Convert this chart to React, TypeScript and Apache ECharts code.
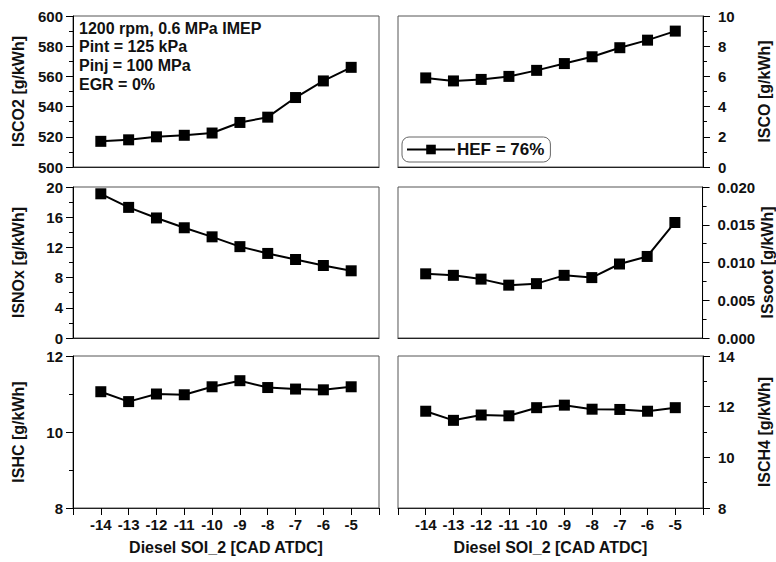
import React, { useEffect, useRef } from "react";
import * as echarts from "echarts";

const soi = [-14, -13, -12, -11, -10, -9, -8, -7, -6, -5];
const xTickLabels = [-14, -13, -12, -11, -10, -9, -8, -7, -6, -5];
const isco2 = [517, 518, 520, 521, 522.5, 529.5, 533, 546, 557, 566];
const isco = [5.9, 5.7, 5.8, 6.0, 6.4, 6.85, 7.3, 7.9, 8.4, 9.0];
const isnox = [19.1, 17.3, 15.9, 14.6, 13.4, 12.1, 11.2, 10.4, 9.6, 8.9];
const issoot = [0.0085, 0.0083, 0.0078, 0.007, 0.0072, 0.0083, 0.008, 0.0098, 0.0108, 0.0153];
const ishc = [11.06, 10.8, 11.0, 10.98, 11.19, 11.35, 11.17, 11.13, 11.11, 11.19];
const isch4 = [11.82, 11.46, 11.67, 11.64, 11.96, 12.06, 11.9, 11.89, 11.82, 11.96];

const legendName = "HEF = 76%";
const annotation = ["1200 rpm, 0.6 MPa IMEP", "Pint = 125 kPa", "Pinj = 100 MPa", "EGR = 0%"];
const xName = "Diesel SOI_2 [CAD ATDC]";

const FONT = "'Liberation Sans', Arial, sans-serif";
const TXT = "#111";

const panels = [
  { name: "ISCO2 [g/kWh]", data: isco2, min: 500, max: 600, interval: 20, side: "left", row: 0, dec: 0 },
  { name: "ISCO [g/kWh]", data: isco, min: 0, max: 10, interval: 2, side: "right", row: 0, dec: 0 },
  { name: "ISNOx [g/kWh]", data: isnox, min: 0, max: 20, interval: 4, side: "left", row: 1, dec: 0 },
  { name: "ISsoot [g/kWh]", data: issoot, min: 0, max: 0.02, interval: 0.005, side: "right", row: 1, dec: 3 },
  { name: "ISHC [g/kWh]", data: ishc, min: 8, max: 12, interval: 2, side: "left", row: 2, dec: 0 },
  { name: "ISCH4 [g/kWh]", data: isch4, min: 8, max: 14, interval: 2, side: "right", row: 2, dec: 0 },
];

const rowTops = [16, 187, 356];
const rowHeights = [151, 151, 152];

export default function App() {
  const ref = useRef<HTMLDivElement>(null);
  useEffect(() => {
    if (!ref.current) return;
    const chart = echarts.init(ref.current, null, { renderer: "svg" });
    const grids = panels.map((p) => ({
      left: p.side === "left" ? 73 : 398,
      width: p.side === "left" ? 306 : 305,
      top: rowTops[p.row],
      height: rowHeights[p.row],
      show: true,
      borderColor: "#555",
      borderWidth: 1,
      backgroundColor: "transparent",
    }));
    const xAxes = panels.map((p, i) => {
      const bottom = p.row === 2;
      return {
        type: "value",
        gridIndex: i,
        min: -15,
        max: -4,
        interval: 1,
        splitLine: { show: false },
        axisLine: { show: true, lineStyle: { color: "#222", width: 1 } },
        axisTick: { show: bottom, length: 7, lineStyle: { color: "#000" } },
        axisLabel: {
          show: bottom,
          margin: 9,
          color: TXT,
          fontFamily: FONT,
          fontWeight: "bold",
          fontSize: 15,
          formatter: (v: number) => (xTickLabels.includes(v) ? String(v) : ""),
        },
        name: bottom ? xName : "",
        nameLocation: "middle",
        nameGap: 31,
        nameTextStyle: { color: TXT, fontFamily: FONT, fontWeight: "bold", fontSize: 16 },
      };
    });
    const yAxes = panels.map((p, i) => ({
      type: "value",
      gridIndex: i,
      position: p.side,
      min: p.min,
      max: p.max,
      interval: p.interval,
      splitLine: { show: false },
      axisLine: { show: true, lineStyle: { color: "#000", width: 1 } },
      axisTick: { show: true, length: 7, lineStyle: { color: "#000" } },
      minorTick: { show: true, splitNumber: 2, length: 4, lineStyle: { color: "#000" } },
      axisLabel: {
        margin: p.side === "left" ? 10 : 15,
        color: TXT,
        fontFamily: FONT,
        fontWeight: "bold",
        fontSize: 15,
        formatter: (v: number) => v.toFixed(p.dec),
      },
      name: p.name,
      nameLocation: "middle",
      nameRotate: 90,
      nameGap: p.side === "left" ? 47 : 53,
      nameTextStyle: { color: TXT, fontFamily: FONT, fontWeight: "bold", fontSize: 16 },
    }));
    const series = panels.map((p, i) => ({
      type: "line",
      name: i === 1 ? legendName : p.name,
      xAxisIndex: i,
      yAxisIndex: i,
      data: soi.map((x, k) => [x, p.data[k]]),
      symbol: "rect",
      symbolSize: 11,
      itemStyle: { color: "#000" },
      lineStyle: { color: "#000", width: 2 },
      showSymbol: true,
    }));
    chart.setOption({
      animation: false,
      backgroundColor: "#fff",
      grid: grids,
      xAxis: xAxes,
      yAxis: yAxes,
      series,
      legend: {
        data: [legendName],
        left: 402,
        top: 137,
        padding: [4, 6, 4, 4],
        borderColor: "#666",
        borderWidth: 1,
        borderRadius: 7,
        itemWidth: 48,
        itemHeight: 12,
        itemGap: 2,
        selectedMode: false,
        textStyle: { color: TXT, fontFamily: FONT, fontWeight: "bold", fontSize: 17, padding: [0, 0, 0, -3] },
      },
      graphic: [
        {
          type: "text",
          left: 79,
          top: 19,
          style: {
            text: annotation.join("\n"),
            fill: TXT,
            font: `bold 16px ${FONT}`,
            lineHeight: 18.6,
          },
        },
      ],
    });
    return () => chart.dispose();
  }, []);
  return (
    <div
      ref={ref}
      style={{ position: "fixed", left: 0, top: 0, width: 776, height: 562 }}
    />
  );
}
